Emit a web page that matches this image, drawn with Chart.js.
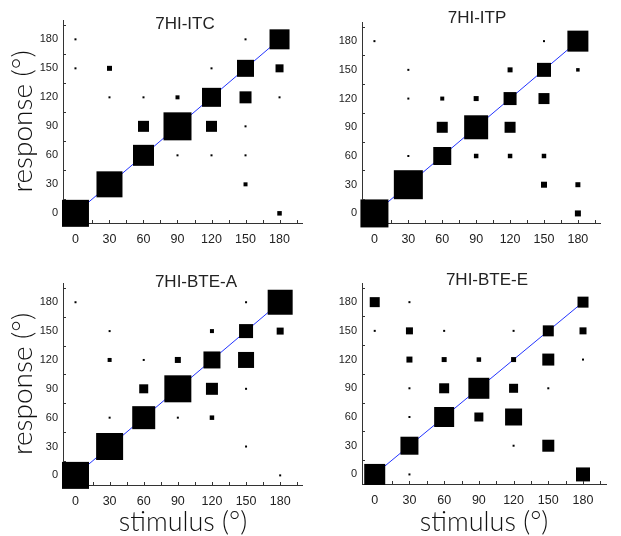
<!DOCTYPE html>
<html>
<head>
<meta charset="utf-8">
<script src="https://cdn.jsdelivr.net/npm/chart.js@4.4.1/dist/chart.umd.min.js"></script>
<style>
  html, body { margin: 0; padding: 0; background: #fff; }
  #wrap { position: relative; width: 621px; height: 536px; overflow: hidden; }
  canvas { position: absolute; }
  .ttl {
    position: absolute;
    font-family: 'Liberation Sans Narrow', 'Liberation Sans', Arial, sans-serif;
    font-size: 17px;
    color: #222;
    transform: translate(-50%, -50%);
    white-space: nowrap;
  }
</style>
</head>
<body>
<div id="wrap">
  <canvas id="c1" width="322" height="260" style="left:0;top:0"></canvas>
  <canvas id="c2" width="311" height="260" style="left:310px;top:0"></canvas>
  <canvas id="c3" width="322" height="276" style="left:0;top:260px"></canvas>
  <canvas id="c4" width="311" height="276" style="left:310px;top:260px"></canvas>
</div>
<script>
const panelTitles = ['7HI-ITC', '7HI-ITP', '7HI-BTE-A', '7HI-BTE-E'];
const tickValues = [0, 30, 60, 90, 120, 150, 180];
const xMinorTicks = [15, 30, 45, 60, 75, 90, 105, 120, 135, 150, 165, 180, 195];
const yMinorTicks = [15, 45, 75, 105, 135, 165, 195];
const diagonal = [0, 180];

// [stimulus °, response °, marker weight]
const itc = [
  [0, 0, 27], [30, 30, 26], [60, 60, 21], [90, 90, 28], [120, 120, 19], [150, 150, 17], [180, 180, 20],
  [60, 90, 11], [120, 90, 11], [150, 120, 12], [180, 150, 8], [30, 150, 5], [180, 0, 4.5], [150, 30, 4], [90, 120, 4],
  [0, 180, 2], [0, 150, 2], [30, 120, 2], [60, 120, 2], [90, 60, 2], [120, 60, 2], [120, 150, 2],
  [150, 180, 2], [150, 90, 2], [150, 60, 2], [180, 120, 2]
];
const itp = [
  [0, 0, 28], [30, 30, 29], [60, 60, 18], [90, 90, 24], [120, 120, 13], [150, 150, 14], [180, 180, 21],
  [60, 90, 11], [120, 90, 11], [150, 120, 11], [120, 150, 5], [60, 120, 4], [90, 120, 5], [90, 60, 4.5],
  [120, 60, 4.5], [150, 60, 4.5], [150, 30, 6], [180, 30, 5], [180, 0, 6], [180, 150, 3.5],
  [0, 180, 2], [30, 150, 2], [30, 120, 2], [30, 60, 2], [150, 180, 2]
];
const bteA = [
  [0, 0, 27], [30, 30, 27], [60, 60, 23], [90, 90, 27], [120, 120, 17], [150, 150, 14], [180, 180, 25],
  [60, 90, 9], [120, 90, 12], [150, 120, 16], [180, 150, 7], [90, 120, 6], [30, 120, 4], [120, 150, 4], [120, 60, 4.5],
  [0, 180, 2], [30, 150, 2], [60, 120, 2], [30, 60, 2], [90, 60, 2], [150, 180, 2], [150, 90, 2], [150, 30, 2], [180, 0, 2]
];
const bteE = [
  [0, 0, 21], [30, 30, 18], [60, 60, 20], [90, 90, 21], [120, 120, 5], [150, 150, 11], [180, 180, 11],
  [0, 180, 10], [30, 150, 7], [30, 120, 6], [60, 120, 5], [90, 120, 4.5], [60, 90, 10], [120, 90, 9],
  [90, 60, 9], [120, 60, 17], [150, 120, 12], [150, 30, 12], [180, 0, 14], [180, 150, 7],
  [30, 180, 2], [0, 150, 2], [60, 150, 2], [120, 150, 2], [30, 90, 2], [30, 60, 2], [30, 0, 2],
  [120, 30, 2], [150, 90, 2], [180, 120, 2]
];

const lightFont = "Lato, 'Open Sans', sans-serif";
const tickFont = "'Liberation Sans', Arial, sans-serif";

// small tick marks pointing into the plot
const innerTicks = {
  id: 'innerTicks',
  afterDraw(chart) {
    const { ctx, chartArea: a, scales: { x, y } } = chart;
    ctx.save();
    ctx.strokeStyle = '#333';
    ctx.lineWidth = 1;
    ctx.beginPath();
    xMinorTicks.forEach(v => {
      const px = Math.round(x.getPixelForValue(v)) + 0.5;
      ctx.moveTo(px, a.bottom);
      ctx.lineTo(px, a.bottom - 3);
    });
    yMinorTicks.forEach(v => {
      const py = Math.round(y.getPixelForValue(v)) + 0.5;
      ctx.moveTo(a.left, py);
      ctx.lineTo(a.left + 3, py);
    });
    ctx.stroke();
    ctx.restore();
  }
};

function makePanel(id, points, o) {
  return new Chart(document.getElementById(id), {
    type: 'scatter',
    data: {
      datasets: [
        {
          data: points.map(p => ({ x: p[0], y: p[1] })),
          pointStyle: 'rect',
          pointRadius: points.map(p => p[2] / Math.SQRT2),
          backgroundColor: '#000',
          borderWidth: 0,
          clip: false
        },
        {
          type: 'line',
          data: diagonal.map(v => ({ x: v, y: v })),
          borderColor: '#2233ff',
          borderWidth: 1,
          pointRadius: 0,
          clip: false
        }
      ]
    },
    options: {
      responsive: false,
      animation: false,
      events: [],
      layout: { padding: o.pad },
      plugins: { legend: { display: false }, tooltip: { enabled: false } },
      scales: {
        x: {
          type: 'linear',
          min: -11,
          max: 200,
          grid: { display: false, drawTicks: false },
          border: { color: '#333' },
          afterBuildTicks: s => { s.ticks = tickValues.map(v => ({ value: v })); },
          afterFit: s => { s.height = o.xh; },
          ticks: { autoSkip: false, maxRotation: 0, padding: 9, color: '#222', font: { family: tickFont, size: 12.5 } },
          title: {
            display: o.xTitle,
            text: 'stimulus (°)',
            color: '#111',
            font: { family: lightFont, size: 27, weight: 300, lineHeight: 1 },
            padding: { top: 0, bottom: 0 }
          }
        },
        y: {
          type: 'linear',
          min: -10,
          max: 200,
          grid: { display: false, drawTicks: false },
          border: { color: '#333' },
          afterBuildTicks: s => { s.ticks = tickValues.map(v => ({ value: v })); },
          afterFit: s => { s.width = o.yw; },
          ticks: { autoSkip: false, padding: 5, color: '#222', font: { family: tickFont, size: 11 } },
          title: {
            display: o.yTitle,
            text: 'response (°)',
            color: '#111',
            font: { family: lightFont, size: 28, weight: 300, lineHeight: 1 },
            padding: { top: 9, bottom: 0 }
          }
        }
      }
    },
    plugins: [innerTicks]
  });
}

makePanel('c1', itc, { pad: { top: 20, right: 2, left: 0, bottom: 0 }, yw: 63, xh: 37, yTitle: true, xTitle: false });
makePanel('c2', itp, { pad: { top: 22, right: 4, left: 0, bottom: 0 }, yw: 52, xh: 37, yTitle: false, xTitle: false });
makePanel('c3', bteA, { pad: { top: 23, right: 2, left: 0, bottom: 0 }, yw: 63, xh: 51, yTitle: true, xTitle: true });
makePanel('c4', bteE, { pad: { top: 23, right: 4, left: 0, bottom: 0 }, yw: 52, xh: 52, yTitle: false, xTitle: true });

// panel titles
const titlePos = [[185, 24], [477, 18], [196, 282], [487, 280]];
const wrap = document.getElementById('wrap');
panelTitles.forEach((t, i) => {
  const d = document.createElement('div');
  d.className = 'ttl';
  d.textContent = t;
  d.style.left = titlePos[i][0] + 'px';
  d.style.top = titlePos[i][1] + 'px';
  wrap.appendChild(d);
});
</script>
</body>
</html>
